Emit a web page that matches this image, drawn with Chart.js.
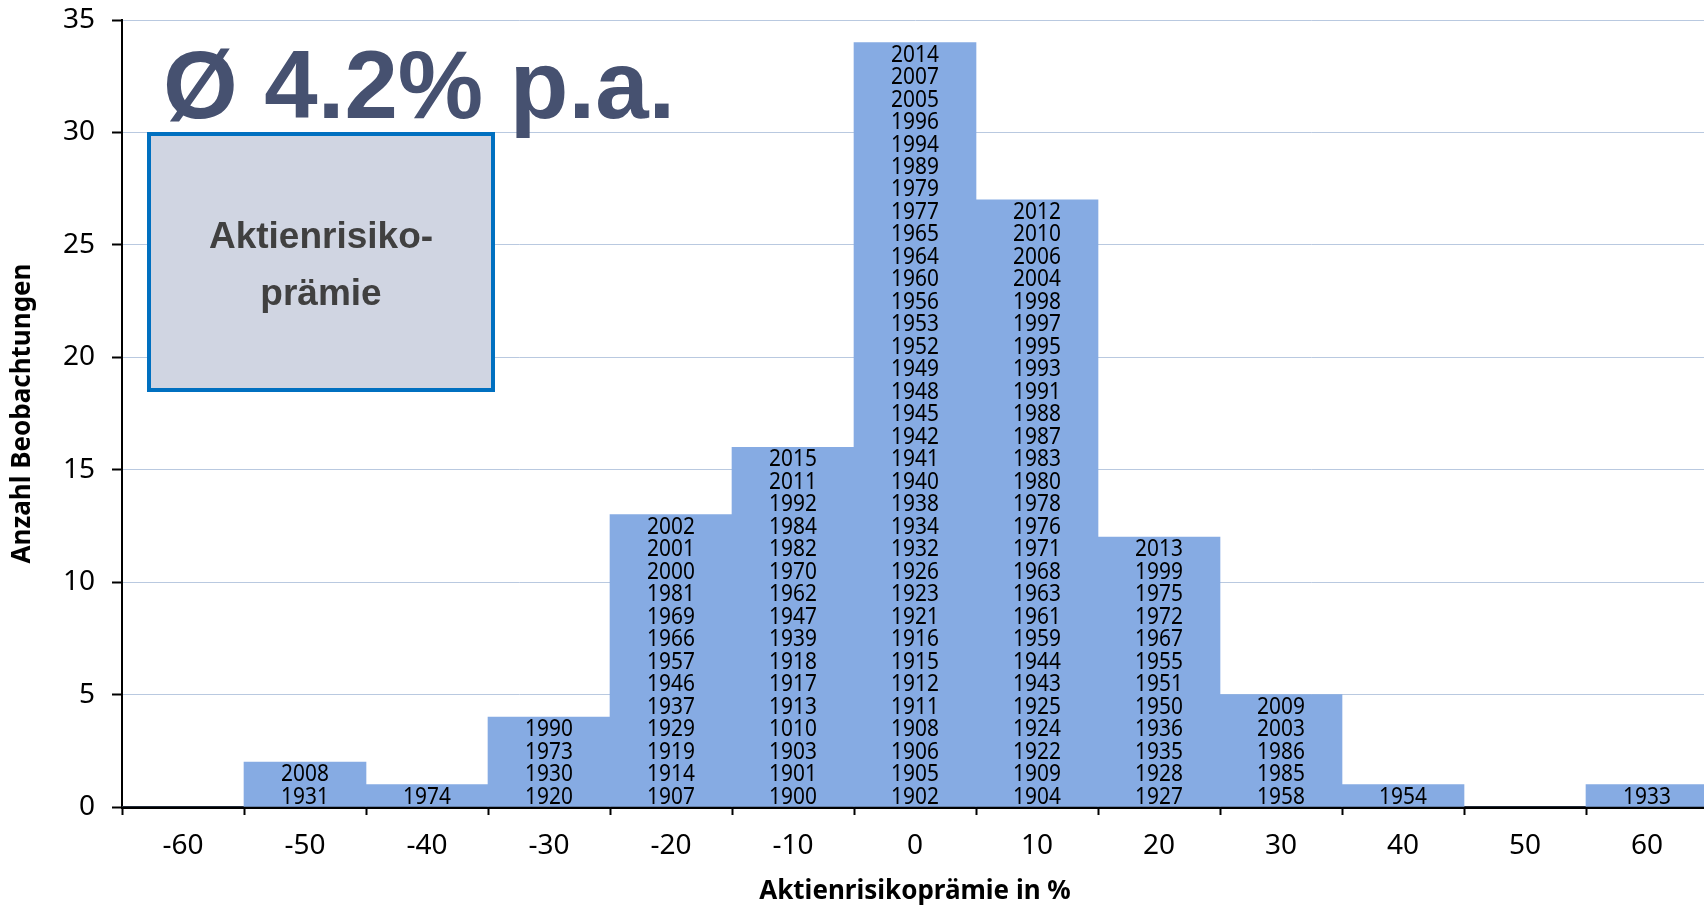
<!DOCTYPE html>
<html>
<head>
<meta charset="utf-8">
<script src="https://cdn.jsdelivr.net/npm/chart.js@4.4.1/dist/chart.umd.min.js"></script>
<style>
  html, body { margin: 0; padding: 0; background: #fff; overflow: hidden; }
  #wrap { position: relative; width: 1708px; height: 907px; }
</style>
</head>
<body>
<div id="wrap"><canvas id="chart"></canvas></div>
<script>
// bins of the equity risk premium in %, count of years per bin
const bins = [-60, -50, -40, -30, -20, -10, 0, 10, 20, 30, 40, 50, 60];
const counts = [0, 2, 1, 4, 13, 16, 34, 27, 12, 5, 1, 0, 1];

// years stacked in each bar, listed top to bottom
const yearsM60 = [];
const yearsM50 = ["2008", "1931"];
const yearsM40 = ["1974"];
const yearsM30 = ["1990", "1973", "1930", "1920"];
const yearsM20 = ["2002", "2001", "2000", "1981", "1969", "1966", "1957", "1946", "1937", "1929", "1919", "1914", "1907"];
const yearsM10 = ["2015", "2011", "1992", "1984", "1982", "1970", "1962", "1947", "1939", "1918", "1917", "1913", "1010", "1903", "1901", "1900"];
const years0 = ["2014", "2007", "2005", "1996", "1994", "1989", "1979", "1977", "1965", "1964", "1960", "1956", "1953", "1952", "1949", "1948", "1945",
                "1942", "1941", "1940", "1938", "1934", "1932", "1926", "1923", "1921", "1916", "1915", "1912", "1911", "1908", "1906", "1905", "1902"];
const years10 = ["2012", "2010", "2006", "2004", "1998", "1997", "1995", "1993", "1991", "1988", "1987", "1983", "1980", "1978", "1976", "1971",
                 "1968", "1963", "1961", "1959", "1944", "1943", "1925", "1924", "1922", "1909", "1904"];
const years20 = ["2013", "1999", "1975", "1972", "1967", "1955", "1951", "1950", "1936", "1935", "1928", "1927"];
const years30 = ["2009", "2003", "1986", "1985", "1958"];
const years40 = ["1954"];
const years50 = [];
const years60 = ["1933"];

const yearLists = [yearsM60, yearsM50, yearsM40, yearsM30, yearsM20, yearsM10, years0,
                   years10, years20, years30, years40, years50, years60];

const headline = "Ø 4.2% p.a.";
const boxLines = ["Aktienrisiko-", "prämie"];

// year labels inside the bars + the annotation box and headline
const overlay = {
    id: "overlay",
    afterDatasetsDraw(chart) {
        const ctx = chart.ctx;
        const yScale = chart.scales.y;
        const meta = chart.getDatasetMeta(0);

        ctx.save();
        ctx.fillStyle = "#000";
        ctx.font = '24px "Noto Sans"';
        ctx.textAlign = "center";
        ctx.textBaseline = "middle";
        yearLists.forEach((list, i) => {
            const x = meta.data[i].x;
            list.forEach((yr, j) => {
                const py = yScale.getPixelForValue(list.length - j - 0.5);
                ctx.save();
                ctx.translate(x, py + 1);
                ctx.scale(0.87, 1);
                ctx.fillText(yr, 0, 0);
                ctx.restore();
            });
        });

        // annotation box
        ctx.fillStyle = "#d0d5e2";
        ctx.fillRect(149, 134, 344, 256);
        ctx.strokeStyle = "#0070c0";
        ctx.lineWidth = 4;
        ctx.strokeRect(149, 134, 344, 256);

        ctx.fillStyle = "#404040";
        ctx.font = 'bold 37px "Liberation Sans"';
        ctx.textAlign = "center";
        ctx.textBaseline = "alphabetic";
        ctx.fillText(boxLines[0], 321, 248);
        ctx.fillText(boxLines[1], 321, 305);

        // headline
        ctx.fillStyle = "#465170";
        ctx.font = 'bold 96px "Liberation Sans"';
        ctx.textAlign = "left";
        ctx.fillText(headline, 163, 118);
        ctx.restore();
    }
};

const ctx = document.getElementById("chart").getContext("2d");
new Chart(ctx, {
    type: "bar",
    data: {
        labels: bins.map(String),
        datasets: [{
            data: counts,
            backgroundColor: "#86abe3",
            borderWidth: 0,
            categoryPercentage: 1,
            barPercentage: 1
        }]
    },
    options: {
        responsive: true,
        maintainAspectRatio: false,
        animation: false,
        layout: { padding: { top: 20, left: 0, right: 0, bottom: 0 } },
        plugins: {
            legend: { display: false },
            tooltip: { enabled: false }
        },
        scales: {
            x: {
                z: 1,
                grid: {
                    drawOnChartArea: false,
                    offset: true,
                    tickLength: 8,
                    tickColor: "#000",
                    tickWidth: 2
                },
                border: { color: "#000", width: 3 },
                ticks: {
                    color: "#000",
                    font: { family: "Noto Sans", size: 28 },
                    padding: 14,
                    maxRotation: 0,
                    autoSkip: false
                },
                title: {
                    display: true,
                    text: "Aktienrisikoprämie in %",
                    color: "#000",
                    font: { family: "Noto Sans", size: 26, weight: "bold" },
                    padding: { top: 0, bottom: 0 }
                },
                afterFit(scale) {
                    scale.height = 100;
                    scale.paddingLeft = 0;
                    scale.paddingRight = 0;
                }
            },
            y: {
                min: 0,
                max: 35,
                grid: {
                    color: "#b9c9e0",
                    lineWidth: 1,
                    tickColor: "#000",
                    tickLength: 10,
                    tickWidth: 2
                },
                border: { color: "#000", width: 2 },
                ticks: {
                    stepSize: 5,
                    color: "#000",
                    font: { family: "Noto Sans", size: 28 },
                    padding: 17
                },
                title: {
                    display: true,
                    text: "Anzahl Beobachtungen",
                    color: "#000",
                    font: { family: "Noto Sans", size: 26, weight: "bold" },
                    padding: { top: 7, bottom: 0 }
                },
                afterFit(scale) {
                    scale.width = 122;
                    scale.paddingTop = 0;
                    scale.paddingBottom = 0;
                }
            }
        }
    },
    plugins: [overlay]
});
</script>
</body>
</html>
